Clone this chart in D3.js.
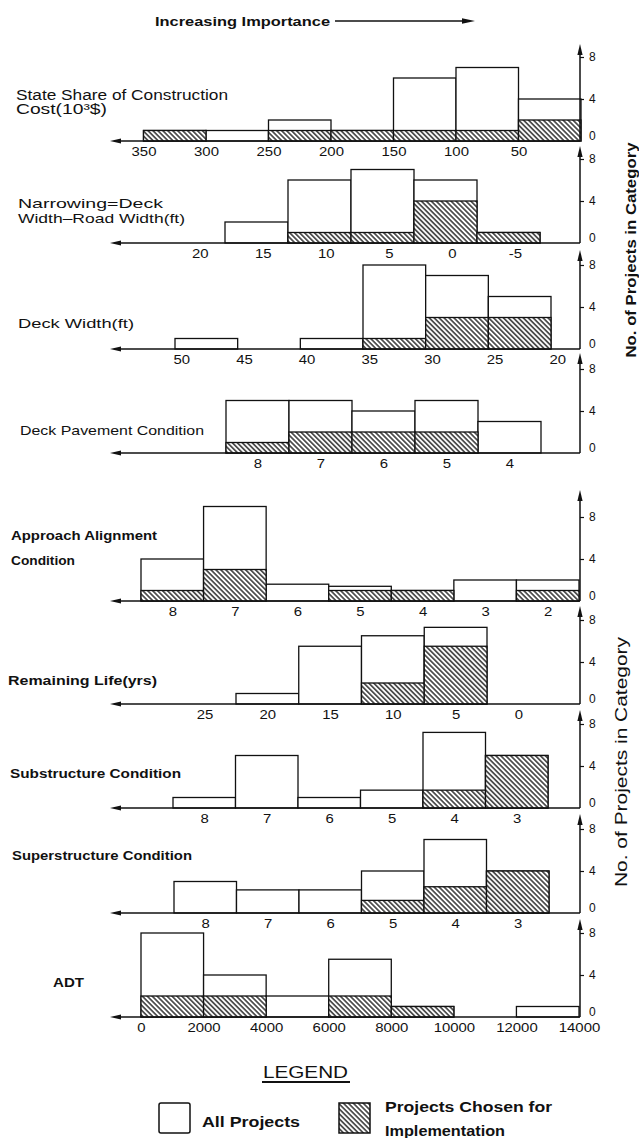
<!DOCTYPE html>
<html><head><meta charset="utf-8">
<script src="https://cdn.jsdelivr.net/npm/d3@7"></script>
<style>
body{margin:0;background:#fff}
svg{display:block}
text{font-family:"Liberation Sans",Arial,sans-serif;fill:#111}
</style>
</head><body>
<svg id="c" width="639" height="1138"></svg>
<script>
// ---------- DATA ----------
// State share of construction cost (10^3 $): bin edges
const costEdges = [350,300,250,200,150,100,50,0];
const costAll = [1,1,2,1,6,7,4];
const costChosen = [1,0,1,1,1,1,2];
const costTicks = [350,300,250,200,150,100,50];

// Narrowing = deck width - road width (ft)
const narrowEdges = [18,13,8,3,-2,-7];
const narrowAll = [2,6,7,6,1];
const narrowChosen = [0,1,1,4,1];
const narrowTicks = [20,15,10,5,0,-5];

// Deck width (ft)
const deckWEdges = [50.5,45.5,40.5,35.5,30.5,25.5,20.5];
const deckWAll = [1,0,1,8,7,5];
const deckWChosen = [0,0,0,1,3,3];
const deckWTicks = [50,45,40,35,30,25,20];

// Deck pavement condition
const paveCats = [8,7,6,5,4];
const paveAll = [5,5,4,5,3];
const paveChosen = [1,2,2,2,0];

// Approach alignment condition
const apprCats = [8,7,6,5,4,3,2];
const apprAll = [4,9,1.6,1.4,1,2,2];
const apprChosen = [1,3,0,1,1,0,1];

// Remaining life (yrs)
const lifeEdges = [22.5,17.5,12.5,7.5,2.5];
const lifeAll = [1,5.5,6.5,7.3];
const lifeChosen = [0,0,2,5.5];
const lifeTicks = [25,20,15,10,5,0];

// Substructure condition
const subCats = [8,7,6,5,4,3];
const subAll = [1,5,1,1.7,7.2,5];
const subChosen = [0,0,0,0,1.7,5];

// Superstructure condition
const supCats = [8,7,6,5,4,3];
const supAll = [3,2.2,2.2,4,7,4];
const supChosen = [0,0,0,1.2,2.5,4];

// ADT
const adtEdges = [0,2000,4000,6000,8000,10000,12000,14000];
const adtAll = [8,4,2,5.5,1,0,1];
const adtChosen = [2,2,0,2,1,0,0];
const adtTicks = [0,2000,4000,6000,8000,10000,12000,14000];

const yTicks = [0,4,8];

// ---------- DRAWING ----------
const svg = d3.select('#c');
svg.append('rect').attr('width',639).attr('height',1138).attr('fill','#fff');
const defs = svg.append('defs');
const pat = defs.append('pattern').attr('id','hatch').attr('patternUnits','userSpaceOnUse')
  .attr('width',3.5).attr('height',3.5).attr('patternTransform','rotate(-45)');
pat.append('rect').attr('width',3.5).attr('height',3.5).attr('fill','#fff');
pat.append('line').attr('x1',1.75).attr('x2',1.75).attr('y1',-1).attr('y2',4.5)
  .attr('stroke','#111').attr('stroke-width',1.3);

const AX = 580, INK = '#111';
const catEdges = cats => [cats[0]+0.5, ...cats.map(c=>c-0.5)];
const numLen = s => s.replace('-','').length*8.3 + (s.includes('-')?5:0);

const panels = [
  {edges:costEdges, all:costAll, chosen:costChosen, ticks:costTicks, dom:[350,50], rng:[143.5,518.5], base:141, top:44},
  {edges:narrowEdges, all:narrowAll, chosen:narrowChosen, ticks:narrowTicks, dom:[18,-7], rng:[225,540], base:243, top:146},
  {edges:deckWEdges, all:deckWAll, chosen:deckWChosen, ticks:deckWTicks, dom:[50.5,20.5], rng:[175,551], base:349, top:250},
  {edges:catEdges(paveCats), all:paveAll, chosen:paveChosen, ticks:paveCats, dom:[8.5,3.5], rng:[226,541], base:453, top:353},
  {edges:catEdges(apprCats), all:apprAll, chosen:apprChosen, ticks:apprCats, dom:[8.5,1.5], rng:[141,579], base:601, top:490},
  {edges:lifeEdges, all:lifeAll, chosen:lifeChosen, ticks:lifeTicks, dom:[22.5,2.5], rng:[236,487], base:704, top:606},
  {edges:catEdges(subCats), all:subAll, chosen:subChosen, ticks:subCats, dom:[8.5,2.5], rng:[173,548], base:808, top:710},
  {edges:catEdges(supCats), all:supAll, chosen:supChosen, ticks:supCats, dom:[8.5,2.5], rng:[174,549], base:913, top:814},
  {edges:adtEdges, all:adtAll, chosen:adtChosen, ticks:adtTicks, dom:[0,14000], rng:[141,579], base:1017, top:919}
];

panels.forEach(p=>{
  const g = svg.append('g');
  const x = d3.scaleLinear().domain(p.dom).range(p.rng);
  const y = d3.scaleLinear().domain([0,8]).range([p.base, p.base-84]);
  const bins = p.all.map((v,i)=>({a:p.edges[i], b:p.edges[i+1], all:v, ch:p.chosen[i]}));
  const bx = d=>Math.min(x(d.a),x(d.b)), bw = d=>Math.abs(x(d.b)-x(d.a));
  g.selectAll('rect.all').data(bins.filter(d=>d.all>0)).join('rect').attr('class','all')
    .attr('x',bx).attr('width',bw).attr('y',d=>y(d.all)).attr('height',d=>y(0)-y(d.all))
    .attr('fill','#fff').attr('stroke',INK).attr('stroke-width',1.3);
  g.selectAll('rect.ch').data(bins.filter(d=>d.ch>0)).join('rect').attr('class','ch')
    .attr('x',bx).attr('width',bw).attr('y',d=>y(d.ch)).attr('height',d=>y(0)-y(d.ch))
    .attr('fill','url(#hatch)').attr('stroke',INK).attr('stroke-width',1.3);

  // x axis labels
  const ax = g.append('g').attr('transform',`translate(0,${p.base})`)
    .call(d3.axisBottom(x).tickValues(p.ticks).tickSize(0).tickPadding(6).tickFormat(d=>String(d)));
  ax.select('.domain').remove();
  ax.selectAll('text').attr('font-family','"DejaVu Sans",sans-serif').attr('font-size',12).attr('fill',INK)
    .attr('textLength',d=>numLen(String(d))).attr('lengthAdjust','spacingAndGlyphs');
  // baseline with left arrow
  g.append('line').attr('x1',AX).attr('x2',118).attr('y1',p.base).attr('y2',p.base)
    .attr('stroke',INK).attr('stroke-width',1.5);
  g.append('path').attr('d',`M110,${p.base} L121,${p.base-2.6} L121,${p.base+2.6}Z`).attr('fill',INK);

  // right axis
  const ay = g.append('g').attr('transform',`translate(${AX},0)`)
    .call(d3.axisRight(y).tickValues(yTicks).tickSize(4).tickPadding(5));
  ay.select('.domain').remove();
  ay.selectAll('.tick line').attr('stroke',INK).attr('stroke-width',1.2).filter(d=>d===0).remove();
  ay.selectAll('text').attr('font-family','"DejaVu Sans",sans-serif').attr('font-size',12).attr('fill',INK);
  ay.selectAll('.tick').filter(d=>d===0).select('text').attr('y',-5);
  g.append('line').attr('x1',AX).attr('x2',AX).attr('y1',p.base).attr('y2',p.top+8)
    .attr('stroke',INK).attr('stroke-width',1.5);
  g.append('path').attr('d',`M${AX},${p.top} L${AX-2.6},${p.top+11} L${AX+2.6},${p.top+11}Z`).attr('fill',INK);
});

// ---------- TEXT ----------
function label(t, x, y, len, opts={}){
  return svg.append('text').attr('x',x).attr('y',y).attr('dominant-baseline','central')
    .attr('font-size',opts.size||13.5).attr('font-weight',opts.bold===false?'normal':'bold')
    .attr('textLength',len).attr('lengthAdjust','spacingAndGlyphs').text(t);
}
label('Increasing Importance',155,21,175);
svg.append('line').attr('x1',335).attr('x2',464).attr('y1',21).attr('y2',21).attr('stroke',INK).attr('stroke-width',1.3);
svg.append('path').attr('d','M475,21 L462,18.3 L462,23.7Z').attr('fill',INK);

label('State Share of Construction',16,95,212,{bold:false,size:14});
label('Cost(10³$)',16,109,91,{bold:false,size:14});
label('Narrowing=Deck',18,203,145,{bold:false});
label('Width–Road Width(ft)',18,218,167,{bold:false});
label('Deck Width(ft)',18,323,116,{bold:false});
label('Deck Pavement Condition',20,430,184,{bold:false});
label('Approach Alignment',11,535,146);
label('Condition',11,560,64);
label('Remaining Life(yrs)',8,680,149);
label('Substructure Condition',10,773,171);
label('Superstructure Condition',12,855,180);
label('ADT',53,982,31);

// y titles
svg.append('text').attr('transform','translate(630,250) rotate(-90)').attr('text-anchor','middle')
  .attr('dominant-baseline','central').attr('font-size',15).attr('font-weight','bold')
  .attr('textLength',215).attr('lengthAdjust','spacingAndGlyphs').text('No. of Projects in Category');
svg.append('text').attr('transform','translate(621,762) rotate(-90)').attr('text-anchor','middle')
  .attr('dominant-baseline','central').attr('font-size',16)
  .attr('textLength',250).attr('lengthAdjust','spacingAndGlyphs').text('No. of Projects in Category');

// legend
label('LEGEND',263,1072,85,{size:16,bold:false});
svg.append('line').attr('x1',262).attr('x2',350).attr('y1',1082).attr('y2',1082).attr('stroke',INK).attr('stroke-width',2);
svg.append('rect').attr('x',159).attr('y',1103).attr('width',31).attr('height',30).attr('rx',2)
  .attr('fill','#fff').attr('stroke',INK).attr('stroke-width',1.5);
label('All Projects',202,1122,98,{size:14});
svg.append('rect').attr('x',339).attr('y',1103).attr('width',31).attr('height',30)
  .attr('fill','url(#hatch)').attr('stroke',INK).attr('stroke-width',1.5);
label('Projects Chosen for',385,1107,167,{size:14});
label('Implementation',385,1131,120,{size:14});
</script>
</body></html>
